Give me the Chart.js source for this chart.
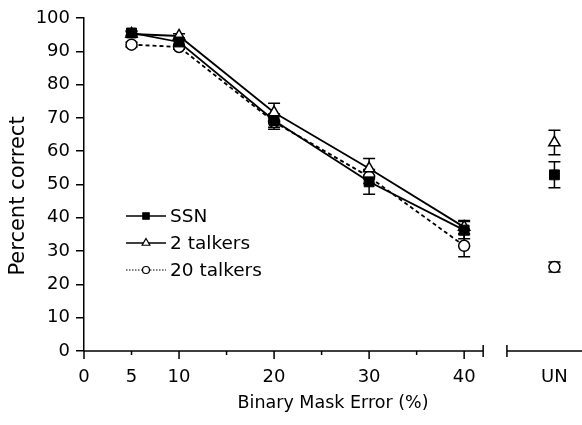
<!DOCTYPE html>
<html>
<head>
<meta charset="utf-8">
<script src="https://cdn.jsdelivr.net/npm/chart.js@4.4.1/dist/chart.umd.min.js"></script>
<style>
  html, body { margin: 0; padding: 0; background: #fff; }
  #wrap { width: 582px; height: 425px; }
</style>
</head>
<body>
<div id="wrap"><canvas id="c"></canvas></div>
<script>
// ---- data ----
const categories = [5, 10, 20, 30, 40, 'UN'];
const ssn          = [95.5, 92.8, 69.2, 50.8, 36.3, 52.9];
const twoTalkers   = [95.2, 94.6, 71.6, 54.8, 37.2, 62.6];
const twentyTalkers= [92.0, 91.3, 68.8, 52.3, 31.6, 25.2];
const ssnErr       = [0.7, 0.7, 2.0, 3.7, 2.6, 3.9];
const twoErr       = [0.7, 0.7, 2.8, 3.0, 2.0, 3.7];
const twentyErr    = [0.7, 0.7, 2.2, 2.0, 3.3, 1.5];
const yTicks = [0, 10, 20, 30, 40, 50, 60, 70, 80, 90, 100];
const xTickLabels = [0, 5, 10, 20, 30, 40, 'UN'];
const xMinorTicks = [15, 25, 35];
const yTitle = 'Percent correct';
const xTitle = 'Binary Mask Error (%)';

// ---- layout constants ----
const UN_POS = 49.5;
const BREAK_A = 42, BREAK_B = 44.5;
const FONT = "'DejaVu Sans', 'Liberation Sans', Arial, sans-serif";

function xPos(c) { return c === 'UN' ? UN_POS : c; }
function buildData(vals) {
  const out = [];
  categories.forEach((c, i) => {
    if (c === 'UN') out.push({ x: (BREAK_A + BREAK_B) / 2, y: null });
    out.push({ x: xPos(c), y: vals[i] });
  });
  return out;
}
function buildErr(errs) {
  const out = [];
  categories.forEach((c, i) => {
    if (c === 'UN') out.push(null);
    out.push(errs[i]);
  });
  return out;
}

const datasets = [
  { label: 'SSN', data: buildData(ssn), err: buildErr(ssnErr), borderColor: '#000', backgroundColor: '#000',
    pointStyle: 'rect', pointRadius: 7, pointBorderColor: '#000', pointBackgroundColor: '#000', pointBorderWidth: 1,
    borderWidth: 1.8, legendDash: [], legendRadius: 4.5, legendFill: '#000' },
  { label: '2 talkers', data: buildData(twoTalkers), err: buildErr(twoErr), borderColor: '#000', backgroundColor: '#fff',
    pointStyle: 'triangle', pointRadius: 6.5, pointBorderColor: '#000', pointBackgroundColor: '#fff', pointBorderWidth: 1.5,
    borderWidth: 1.8, legendDash: [], legendRadius: 4.5, legendFill: '#fff' },
  { label: '20 talkers', data: buildData(twentyTalkers), err: buildErr(twentyErr), borderColor: '#000', backgroundColor: '#fff',
    pointStyle: 'circle', pointRadius: 5.5, pointBorderColor: '#000', pointBackgroundColor: '#fff', pointBorderWidth: 1.5,
    borderWidth: 1.8, borderDash: [4, 3], legendDash: [1.5, 1.5], legendRadius: 3.5, legendFill: '#fff' }
];

const errorBars = {
  id: 'errorBars',
  beforeDatasetsDraw(chart) {
    const ctx = chart.ctx, xs = chart.scales.x, ys = chart.scales.y;
    ctx.save();
    ctx.strokeStyle = '#000';
    ctx.lineWidth = 1.5;
    chart.data.datasets.forEach(ds => {
      ds.data.forEach((p, i) => {
        const e = ds.err[i];
        if (p.y == null || e == null) return;
        const px = xs.getPixelForValue(p.x);
        const t = ys.getPixelForValue(p.y + e), b = ys.getPixelForValue(p.y - e);
        ctx.beginPath();
        ctx.moveTo(px, t); ctx.lineTo(px, b);
        ctx.moveTo(px - 6, t); ctx.lineTo(px + 6, t);
        ctx.moveTo(px - 6, b); ctx.lineTo(px + 6, b);
        ctx.stroke();
      });
    });
    ctx.restore();
  }
};

const xAxisDraw = {
  id: 'xAxisDraw',
  afterDraw(chart) {
    const ctx = chart.ctx, xs = chart.scales.x, ys = chart.scales.y;
    const y0 = ys.getPixelForValue(0);
    ctx.save();
    ctx.strokeStyle = '#000';
    ctx.lineWidth = 1.5;
    ctx.beginPath();
    ctx.moveTo(xs.getPixelForValue(0), y0); ctx.lineTo(xs.getPixelForValue(BREAK_A), y0);
    ctx.moveTo(xs.getPixelForValue(BREAK_B), y0); ctx.lineTo(chart.chartArea.right, y0);
    [BREAK_A, BREAK_B].forEach(v => {
      const px = xs.getPixelForValue(v);
      ctx.moveTo(px, y0 - 6); ctx.lineTo(px, y0 + 6);
    });
    [0, 10, 20, 30, 40].forEach(v => {
      const px = xs.getPixelForValue(v);
      ctx.moveTo(px, y0); ctx.lineTo(px, y0 + 8);
    });
    [5].concat(xMinorTicks).forEach(v => {
      const px = xs.getPixelForValue(v);
      ctx.moveTo(px, y0); ctx.lineTo(px, y0 + 4);
    });
    ctx.stroke();
    // y-axis title (drawn as text)
    ctx.fillStyle = '#000';
    ctx.font = '21px ' + FONT;
    ctx.textAlign = 'center';
    ctx.textBaseline = 'middle';
    ctx.translate(19, 196);
    ctx.rotate(-Math.PI / 2);
    ctx.fillText(yTitle, 0, 0);
    ctx.restore();
  }
};

const legendDraw = {
  id: 'legendDraw',
  afterDraw(chart) {
    const ctx = chart.ctx;
    const x1 = 126, x2 = 166, tx = 170;
    const rows = [216, 243, 270];
    ctx.save();
    chart.data.datasets.forEach((ds, i) => {
      const y = rows[i];
      ctx.strokeStyle = '#000';
      ctx.lineWidth = ds.legendDash.length ? 1 : 1.5;
      ctx.setLineDash(ds.legendDash);
      ctx.beginPath(); ctx.moveTo(x1, y); ctx.lineTo(x2, y); ctx.stroke();
      ctx.setLineDash([]);
      ctx.fillStyle = ds.legendFill;
      ctx.lineWidth = 1.2;
      Chart.helpers.drawPoint(ctx, { pointStyle: ds.pointStyle, radius: ds.legendRadius, borderWidth: 1.2, rotation: 0 }, (x1 + x2) / 2, y);
      ctx.fillStyle = '#000';
      ctx.font = '18.5px ' + FONT;
      ctx.textBaseline = 'middle';
      ctx.textAlign = 'left';
      ctx.fillText(ds.label, tx, y + 1);
    });
    ctx.restore();
  }
};

new Chart(document.getElementById('c'), {
  type: 'line',
  data: { datasets },
  options: {
    responsive: true,
    maintainAspectRatio: false,
    animation: false,
    layout: { autoPadding: false, padding: { top: 18, right: 0, left: 0, bottom: 0 } },
    plugins: { legend: { display: false }, tooltip: { enabled: false } },
    elements: { line: { tension: 0 } },
    spanGaps: false,
    scales: {
      x: {
        type: 'linear', min: 0, max: 52.4,
        afterFit(s) { s.height = 74; s.paddingLeft = 0; s.paddingRight = 0; },
        afterBuildTicks(s) { s.ticks = xTickLabels.map(v => ({ value: xPos(v) })); },
        ticks: {
          color: '#000', font: { family: FONT, size: 18 }, padding: 8, maxRotation: 0, autoSkip: false,
          callback(v) { return Math.abs(v - UN_POS) < 1e-6 ? 'UN' : String(v); }
        },
        grid: { display: false },
        border: { display: false },
        title: { display: true, text: xTitle, color: '#000', font: { family: FONT, size: 17.5 }, padding: { top: 0, bottom: 11 } }
      },
      y: {
        min: 0, max: 100,
        afterFit(s) { s.width = 84; },
        afterBuildTicks(s) { s.ticks = yTicks.map(v => ({ value: v })); },
        ticks: { color: '#000', font: { family: FONT, size: 18 }, padding: 6 },
        grid: { drawOnChartArea: false, color: '#000', tickColor: '#000', tickLength: 8, lineWidth: 1.5, tickWidth: 1.5 },
        border: { display: true, color: '#000', width: 1.5 },
        title: { display: false }
      }
    }
  },
  plugins: [errorBars, xAxisDraw, legendDraw]
});
</script>
</body>
</html>
